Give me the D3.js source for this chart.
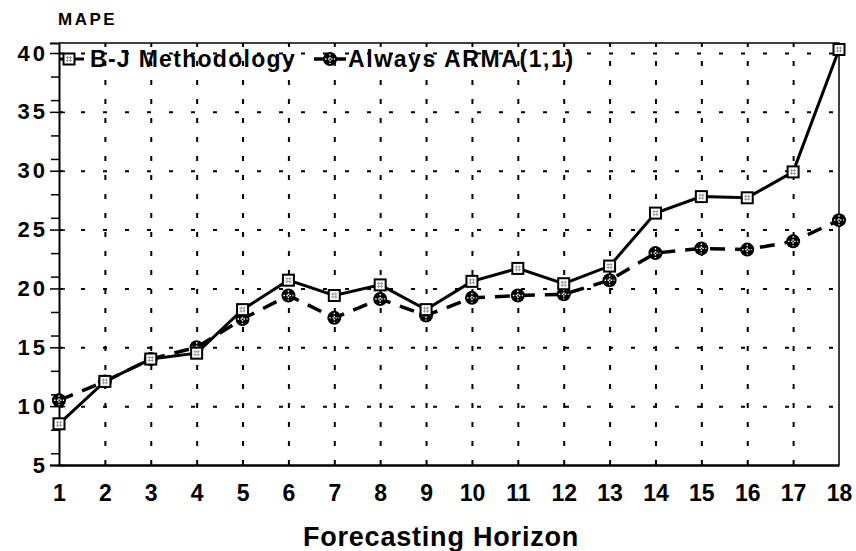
<!DOCTYPE html>
<html>
<head>
<meta charset="utf-8">
<script src="https://cdn.jsdelivr.net/npm/d3@7"></script>
<style>
  body { margin: 0; background: #fff; }
  svg { font-family: "Liberation Sans", Arial, sans-serif; }
</style>
</head>
<body>
<div id="chart"></div>
<script>
// values
const horizons = [1, 2, 3, 4, 5, 6, 7, 8, 9, 10, 11, 12, 13, 14, 15, 16, 17, 18];
const bjMape = [8.5, 12.1, 14.0, 14.5, 18.2, 20.7, 19.4, 20.3, 18.2, 20.6, 21.7, 20.4, 21.9, 26.4, 27.8, 27.7, 29.9, 40.3];
const armaMape = [10.5, 12.1, 14.0, 15.0, 17.4, 19.4, 17.5, 19.1, 17.7, 19.2, 19.4, 19.5, 20.7, 23.0, 23.4, 23.3, 24.0, 25.8];
const yTicks = [5, 10, 15, 20, 25, 30, 35, 40];
const yMinor = [6, 8, 11, 13, 16, 18, 21, 23, 26, 28, 31, 33, 36, 38];
const seriesNames = ['B-J Methodology', 'Always ARMA(1,1)'];

const width = 856;
const height = 551;
const margin = { top: 43, right: 16, bottom: 86, left: 59 };

const svg = d3.select('#chart').append('svg')
  .attr('width', width)
  .attr('height', height);

const x = d3.scaleLinear().domain([1, 18]).range([margin.left, width - margin.right - 1]);
const y = d3.scaleLinear().domain([5, 40.85]).range([height - margin.bottom, margin.top]);
const plotW = x(18) - x(1);
const plotH = y(5) - y(40.85);

// grid lines
svg.append('g')
  .attr('transform', `translate(0,${y(5)})`)
  .call(d3.axisBottom(x).tickValues(horizons.slice(1, -1)).tickSize(-plotH).tickFormat(''))
  .call((g) => g.select('.domain').remove())
  .selectAll('line')
  .attr('stroke', '#000')
  .attr('stroke-width', 2)
  .attr('stroke-dasharray', '5,14');

svg.append('g')
  .attr('transform', `translate(${x(1)},0)`)
  .call(d3.axisLeft(y).tickValues(yTicks.slice(1)).tickSize(-plotW).tickFormat(''))
  .call((g) => g.select('.domain').remove())
  .selectAll('line')
  .attr('stroke', '#000')
  .attr('stroke-width', 2)
  .attr('stroke-dasharray', '4,18');

// frame
svg.append('path')
  .attr('d', `M${x(1)},${y(40.85)}H${x(18)}V${y(5)}`)
  .attr('fill', 'none')
  .attr('stroke', '#000')
  .attr('stroke-width', 1.5);

// y axis
const yAxis = svg.append('g')
  .attr('transform', `translate(${x(1)},0)`)
  .call(d3.axisLeft(y).tickValues(yTicks).tickSize(9).tickPadding(2));
yAxis.select('.domain').attr('stroke-width', 2);
yAxis.selectAll('.tick line').attr('x2', -9).attr('x1', 6).attr('stroke-width', 1.5);
yAxis.selectAll('.tick text')
  .attr('font-size', 22)
  .attr('font-weight', 'bold')
  .attr('letter-spacing', 3)
  .attr('font-family', '"Liberation Sans", Arial, sans-serif')
  .attr('fill', '#000');

svg.append('g')
  .attr('transform', `translate(${x(1)},0)`)
  .call(d3.axisLeft(y).tickValues(yMinor).tickSize(8).tickFormat(''))
  .call((g) => g.select('.domain').remove())
  .selectAll('line')
  .attr('stroke-width', 1.5);

// x axis
const xAxis = svg.append('g')
  .attr('transform', `translate(0,${y(5)})`)
  .call(d3.axisBottom(x).tickValues(horizons).tickSize(0).tickPadding(20));
xAxis.select('.domain').attr('stroke-width', 2.5);
xAxis.selectAll('.tick text')
  .attr('font-size', 23)
  .attr('font-weight', 'bold')
  .attr('font-family', '"Liberation Sans", Arial, sans-serif')
  .attr('fill', '#000');

// titles
svg.append('text')
  .attr('x', 58)
  .attr('y', 25)
  .attr('font-size', 17)
  .attr('font-weight', 'bold')
  .attr('letter-spacing', 2.5)
  .text('MAPE');

svg.append('text')
  .attr('x', 441)
  .attr('y', 546)
  .attr('text-anchor', 'middle')
  .attr('font-size', 27)
  .attr('font-weight', 'bold')
  .attr('letter-spacing', 0.8)
  .text('Forecasting Horizon');

// series lines
const line = d3.line()
  .x((d, i) => x(horizons[i]))
  .y((d) => y(d));

svg.append('path')
  .datum(armaMape)
  .attr('d', line)
  .attr('fill', 'none')
  .attr('stroke', '#000')
  .attr('stroke-width', 3.5)
  .attr('stroke-dasharray', '15,10');

svg.append('path')
  .datum(bjMape)
  .attr('d', line)
  .attr('fill', 'none')
  .attr('stroke', '#000')
  .attr('stroke-width', 3);

// markers
function drawCircleMark(g) {
  g.append('circle').attr('r', 7).attr('fill', '#000');
  g.append('path')
    .attr('d', 'M-5,0H5M0,-5V5')
    .attr('stroke', '#fff')
    .attr('stroke-width', 1.4)
    .attr('stroke-dasharray', '1.5,1.5');
}

function drawSquareMark(g) {
  g.append('rect')
    .attr('x', -5.5).attr('y', -5.5)
    .attr('width', 11).attr('height', 11)
    .attr('fill', '#fff')
    .attr('stroke', '#000')
    .attr('stroke-width', 2);
  g.append('path')
    .attr('d', 'M-3,-1.5H3M-3,1.5H3M-1.5,-3V3M1.5,-3V3')
    .attr('stroke', '#888')
    .attr('stroke-width', 0.8);
}

svg.append('g').selectAll('g')
  .data(armaMape)
  .join('g')
  .attr('transform', (d, i) => `translate(${x(horizons[i])},${y(d)})`)
  .each(function () { drawCircleMark(d3.select(this)); });

svg.append('g').selectAll('g')
  .data(bjMape)
  .join('g')
  .attr('transform', (d, i) => `translate(${x(horizons[i])},${y(d)})`)
  .each(function () { drawSquareMark(d3.select(this)); });

// legend
const legend = svg.append('g').attr('transform', `translate(0,${y(40) + 6})`);

legend.append('path')
  .attr('d', `M${x(1)},0H84`)
  .attr('stroke', '#000')
  .attr('stroke-width', 3);
drawSquareMark(legend.append('g').attr('transform', 'translate(69,0)'));
legend.append('text')
  .attr('x', 90)
  .attr('y', 8)
  .attr('font-size', 23)
  .attr('font-weight', 'bold')
  .attr('letter-spacing', 1.3)
  .text(seriesNames[0]);

legend.append('path')
  .attr('d', 'M314,0H346')
  .attr('stroke', '#000')
  .attr('stroke-width', 3.5);
drawCircleMark(legend.append('g').attr('transform', 'translate(330,0)'));
legend.append('text')
  .attr('x', 348)
  .attr('y', 8)
  .attr('font-size', 23)
  .attr('font-weight', 'bold')
  .attr('letter-spacing', 1.6)
  .text(seriesNames[1]);
</script>
</body>
</html>
